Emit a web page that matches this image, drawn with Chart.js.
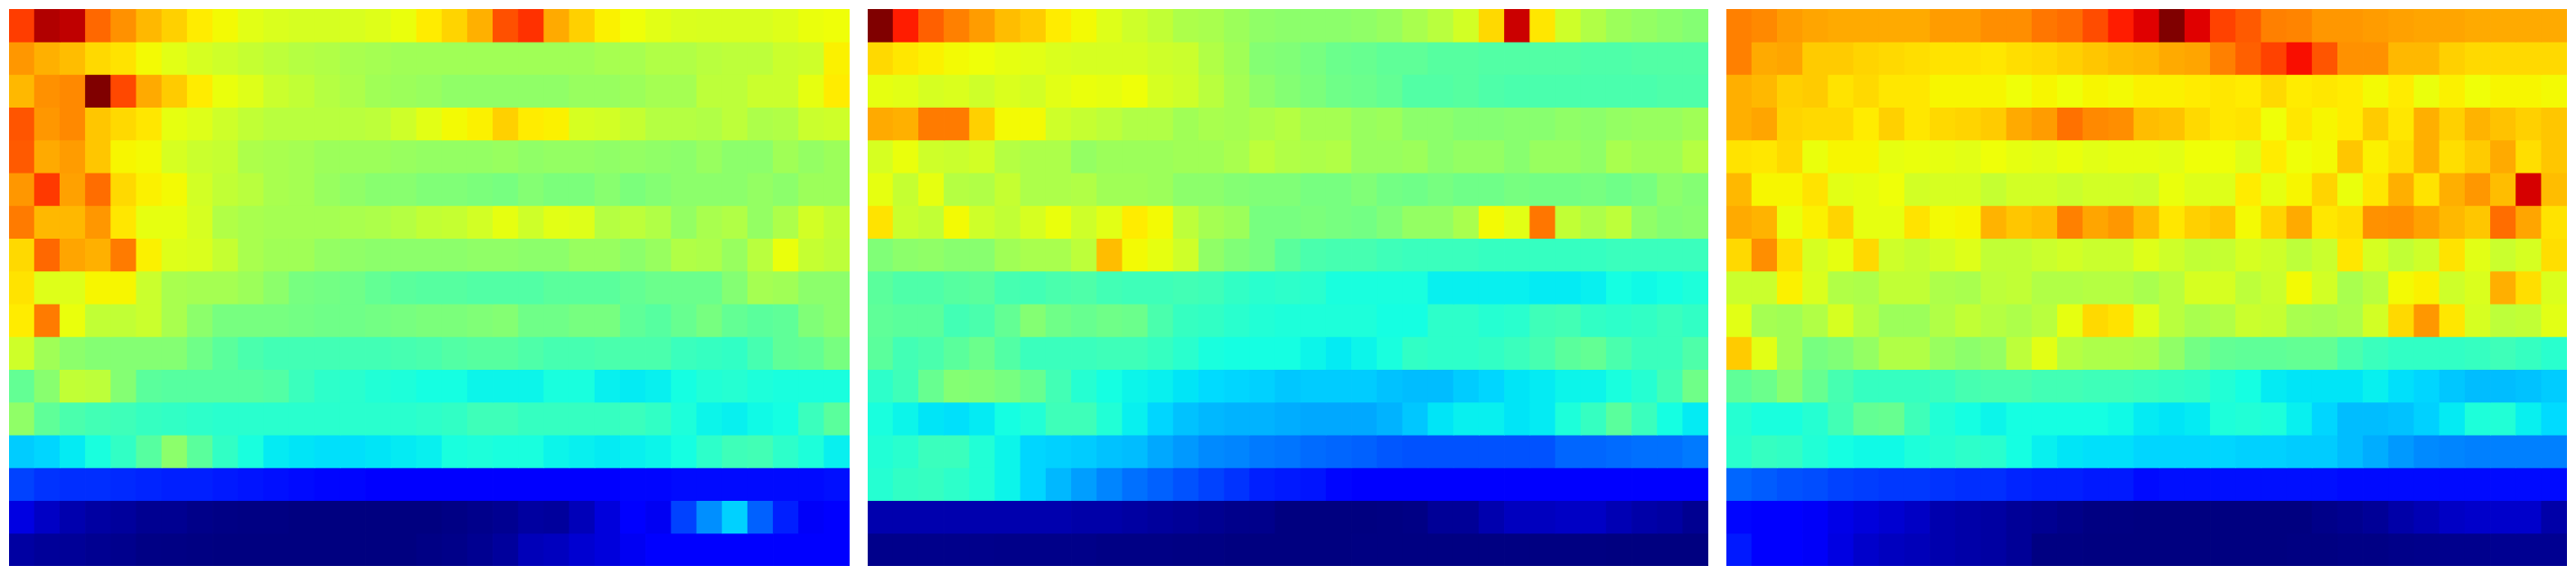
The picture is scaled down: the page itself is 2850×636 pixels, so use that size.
<!DOCTYPE html>
<html>
<head>
<meta charset="utf-8">
<title>Heatmaps</title>
<script src="https://cdn.jsdelivr.net/npm/chart.js@4/dist/chart.umd.min.js"></script>
<style>
    html, body { margin: 0; padding: 0; background: #ffffff; }
    #wrap { position: relative; width: 2850px; height: 636px; overflow: hidden; }
    canvas { position: absolute; top: 10px; }
</style>
</head>
<body>
<div id="wrap">
    <canvas id="panel-a" width="930" height="616" style="left:10px"></canvas>
    <canvas id="panel-b" width="930" height="616" style="left:960px"></canvas>
    <canvas id="panel-c" width="930" height="616" style="left:1910px"></canvas>
</div>
<script>
const columnLabels = ['1','2','3','4','5','6','7','8','9','10','11','12','13','14','15','16','17','18','19','20','21','22','23','24','25','26','27','28','29','30','31','32','33'];

const panelA = [
    [845,957,945,800,757,715,690,660,645,625,615,610,610,612,620,635,660,685,724,825,858,730,690,655,640,625,615,612,612,612,620,635,640],
    [750,724,710,680,670,645,625,610,600,590,580,570,565,555,550,545,545,545,545,545,545,545,545,553,553,565,565,575,580,580,595,600,655],
    [715,757,765,1000,834,730,695,660,635,620,595,585,570,560,545,540,535,525,525,525,525,525,535,535,540,550,550,580,580,595,595,630,660],
    [820,750,765,700,680,665,630,620,600,585,575,575,575,575,580,600,625,645,655,690,660,655,610,605,590,570,570,565,580,560,565,595,600],
    [815,730,745,700,650,645,610,595,590,560,555,550,540,540,540,535,530,530,530,535,525,530,530,525,530,525,520,535,520,520,545,530,540],
    [750,850,740,795,680,655,645,605,585,575,555,550,535,525,515,515,505,505,500,495,510,500,500,515,500,510,520,520,520,530,520,540,540],
    [780,715,715,750,665,630,630,610,565,555,550,550,550,555,560,570,585,590,605,630,600,625,620,570,580,565,530,555,565,530,560,605,585],
    [680,800,735,724,780,655,620,615,590,555,545,545,530,525,520,520,520,520,525,525,520,520,535,535,520,535,565,560,535,575,635,590,580],
    [670,620,620,650,650,595,555,550,550,540,520,495,490,485,470,460,455,455,450,450,450,460,460,460,470,480,480,480,510,550,545,520,520],
    [660,780,635,585,585,595,555,520,495,495,495,490,485,485,490,495,500,500,505,510,485,485,495,495,465,455,475,495,470,460,465,505,520],
    [600,545,520,510,510,510,510,485,460,440,430,430,430,430,430,435,440,450,455,455,445,435,435,440,440,440,420,415,410,435,465,470,495],
    [470,515,585,580,510,460,455,455,455,455,450,420,405,400,390,385,375,375,365,365,365,380,380,360,355,360,375,390,395,385,380,380,380],
    [525,465,440,430,425,415,410,405,400,400,400,400,400,400,400,400,405,410,425,425,415,415,415,415,420,410,385,365,360,370,375,420,460],
    [325,335,355,380,410,455,520,460,410,380,355,350,345,345,350,355,360,380,385,380,380,365,360,355,360,365,375,405,425,430,405,385,360],
    [190,175,170,170,165,160,155,155,150,145,140,135,130,130,125,120,115,115,110,110,112,112,115,115,130,130,135,135,135,135,135,135,140],
    [85,60,40,30,25,15,15,8,5,3,3,0,0,0,0,0,0,5,10,15,28,25,50,80,110,100,190,265,330,220,155,105,110],
    [30,22,20,15,12,5,4,2,0,0,0,0,0,0,0,0,5,8,15,25,50,55,70,80,100,110,110,110,110,110,110,110,110]
];

const panelB = [
    [1000,880,808,775,745,710,695,660,645,620,600,585,560,555,540,525,520,520,520,525,535,555,575,605,680,935,665,600,565,540,530,520,510],
    [680,665,655,645,640,630,625,615,610,610,610,600,595,565,545,510,505,495,480,475,465,465,455,455,450,450,450,450,445,445,450,450,450],
    [630,625,610,615,600,615,605,625,635,630,640,610,600,575,550,525,510,500,485,480,470,450,450,455,445,440,440,440,440,440,440,445,445],
    [730,724,780,780,690,645,645,600,590,580,565,565,545,555,550,560,570,550,550,535,540,520,520,510,510,515,515,525,520,530,535,535,545],
    [610,635,600,595,605,570,560,560,530,540,540,540,545,545,555,580,565,560,565,535,535,540,520,530,530,515,535,535,525,555,545,545,570],
    [630,590,630,570,565,590,560,560,565,545,545,540,520,520,510,505,505,495,495,505,490,485,495,485,485,495,490,490,495,485,495,520,510],
    [670,595,585,645,600,585,610,635,600,625,660,645,580,550,540,495,495,500,495,490,505,530,530,555,645,625,785,585,560,580,525,510,515],
    [505,520,525,515,515,545,555,555,580,710,645,630,600,525,505,495,460,440,435,435,425,420,420,420,415,415,415,415,415,420,420,420,420],
    [460,445,445,455,460,435,430,440,445,430,425,425,430,425,410,400,405,400,380,380,380,380,360,360,360,360,355,355,360,375,370,375,385],
    [465,460,460,430,440,470,510,485,475,485,480,440,415,410,400,390,385,385,385,385,375,375,405,405,395,400,425,430,410,405,410,420,410],
    [460,430,440,460,480,450,420,420,420,425,425,415,400,380,375,375,375,365,355,365,380,410,405,405,410,420,435,460,470,440,420,420,445],
    [405,425,475,510,505,495,475,430,395,375,365,360,350,340,335,330,320,325,325,325,315,310,310,325,335,350,355,365,365,380,395,430,485],
    [380,365,350,345,355,375,390,425,425,390,360,335,315,305,300,300,295,290,290,290,300,320,350,360,360,350,355,385,415,460,420,375,355],
    [390,400,420,420,390,365,335,330,325,315,310,290,275,260,255,245,240,230,225,220,210,205,205,205,205,205,205,225,225,230,235,235,245],
    [395,410,415,405,390,365,335,305,280,255,235,220,205,190,175,155,150,145,130,125,125,125,120,120,120,120,120,120,120,120,120,120,120],
    [40,40,40,40,40,40,40,40,35,35,30,25,20,15,10,10,0,0,0,0,2,5,20,20,40,55,55,60,60,45,35,30,15],
    [10,10,10,10,10,8,8,8,8,5,5,5,3,3,0,0,0,0,0,2,2,2,2,2,2,2,2,2,2,0,0,0,0]
];

const panelC = [
    [775,765,745,735,730,730,730,730,745,745,760,760,785,795,830,880,917,1000,917,840,815,775,770,750,750,745,740,735,735,730,730,730,730],
    [775,730,735,695,695,685,680,675,670,670,665,675,680,690,700,710,715,730,735,775,808,840,895,820,757,757,715,715,690,680,680,680,680],
    [725,715,690,695,670,680,665,665,650,650,650,640,650,640,650,645,655,655,660,665,660,680,660,665,660,645,660,635,655,640,650,650,645],
    [725,735,685,680,680,660,690,665,680,685,695,730,745,790,765,760,710,705,680,665,670,640,665,650,660,695,665,725,690,720,705,690,700],
    [670,665,680,635,650,650,630,635,630,625,640,630,625,635,625,630,630,625,640,640,620,660,640,645,700,655,675,725,675,695,730,675,700],
    [715,650,650,670,625,630,640,605,610,610,590,605,605,595,605,605,600,635,620,620,660,630,650,685,635,665,725,670,725,750,710,925,710],
    [730,720,635,655,685,630,630,670,645,650,720,700,710,775,735,750,710,665,690,700,645,685,730,665,675,757,760,740,715,700,795,735,670],
    [680,760,675,610,630,680,600,590,605,620,585,585,595,605,595,595,620,600,585,590,610,600,580,595,665,610,585,600,670,625,595,610,675],
    [595,595,655,615,565,560,585,585,560,555,580,585,565,565,570,570,555,575,610,610,580,595,645,605,555,575,645,655,600,615,725,675,615],
    [625,550,545,565,610,570,540,540,565,585,570,560,575,630,680,670,620,575,555,565,595,590,555,550,560,605,680,750,665,610,580,585,625],
    [695,625,545,495,505,530,565,565,535,520,530,580,625,570,560,560,555,525,490,470,465,465,470,470,440,420,410,410,410,415,425,415,400],
    [465,480,515,475,435,415,415,415,420,435,440,440,430,430,425,425,420,415,410,390,375,355,350,350,350,360,345,335,320,310,310,315,325],
    [395,380,380,395,430,470,475,425,390,375,365,375,375,375,375,370,355,350,355,385,390,385,360,335,310,310,315,330,355,385,390,360,340],
    [400,415,410,390,375,370,370,385,395,405,400,375,360,350,345,345,335,335,335,335,330,330,325,325,310,295,275,260,255,250,250,250,250],
    [225,215,205,200,190,185,180,180,175,170,170,160,155,155,150,150,135,140,140,140,140,140,140,140,135,135,135,135,135,135,135,135,135],
    [130,120,115,105,90,80,70,60,40,35,30,20,15,8,2,2,0,0,0,0,0,0,0,8,13,20,35,45,60,65,65,65,35],
    [150,125,115,105,85,65,55,50,40,35,30,20,2,2,0,0,0,0,0,0,0,0,2,2,5,5,8,10,12,12,15,15,15]
];

// Piecewise jet, same break points as the usual colormap
function channel(t, stops) {
    for (let i = 1; i < stops.length; i++) {
        if (t <= stops[i][0]) {
            const a = stops[i - 1];
            const b = stops[i];
            return a[1] + (b[1] - a[1]) * (t - a[0]) / (b[0] - a[0]);
        }
    }
    return stops[stops.length - 1][1];
}

function jetColor(value) {
    const t = value / 1000;
    const r = channel(t, [[0, 0], [0.35, 0], [0.66, 1], [0.89, 1], [1, 0.5]]);
    const g = channel(t, [[0, 0], [0.125, 0], [0.375, 1], [0.64, 1], [0.91, 0], [1, 0]]);
    const b = channel(t, [[0, 0.5], [0.11, 1], [0.34, 1], [0.65, 0], [1, 0]]);
    return `rgb(${Math.round(r * 255)},${Math.round(g * 255)},${Math.round(b * 255)})`;
}

function drawPanel(canvasId, rows) {
    const ctx = document.getElementById(canvasId).getContext('2d');
    const datasets = rows.map((row, r) => ({
        grouped: false,
        barPercentage: 1,
        categoryPercentage: 1,
        borderWidth: 0,
        inflateAmount: 0.4,
        backgroundColor: (c) => jetColor(c.raw.value),
        data: row.map((value, i) => ({ x: columnLabels[i], y: [r, r + 1], value: value }))
    }));
    return new Chart(ctx, {
        type: 'bar',
        data: { labels: columnLabels, datasets: datasets },
        options: {
            responsive: false,
            animation: false,
            devicePixelRatio: 1,
            layout: { padding: 0 },
            plugins: { legend: { display: false }, tooltip: { enabled: false } },
            scales: {
                x: { display: false },
                y: { display: false, min: 0, max: rows.length, reverse: true }
            }
        }
    });
}

document.addEventListener('DOMContentLoaded', () => {
    drawPanel('panel-a', panelA);
    drawPanel('panel-b', panelB);
    drawPanel('panel-c', panelC);
});
</script>
</body>
</html>
